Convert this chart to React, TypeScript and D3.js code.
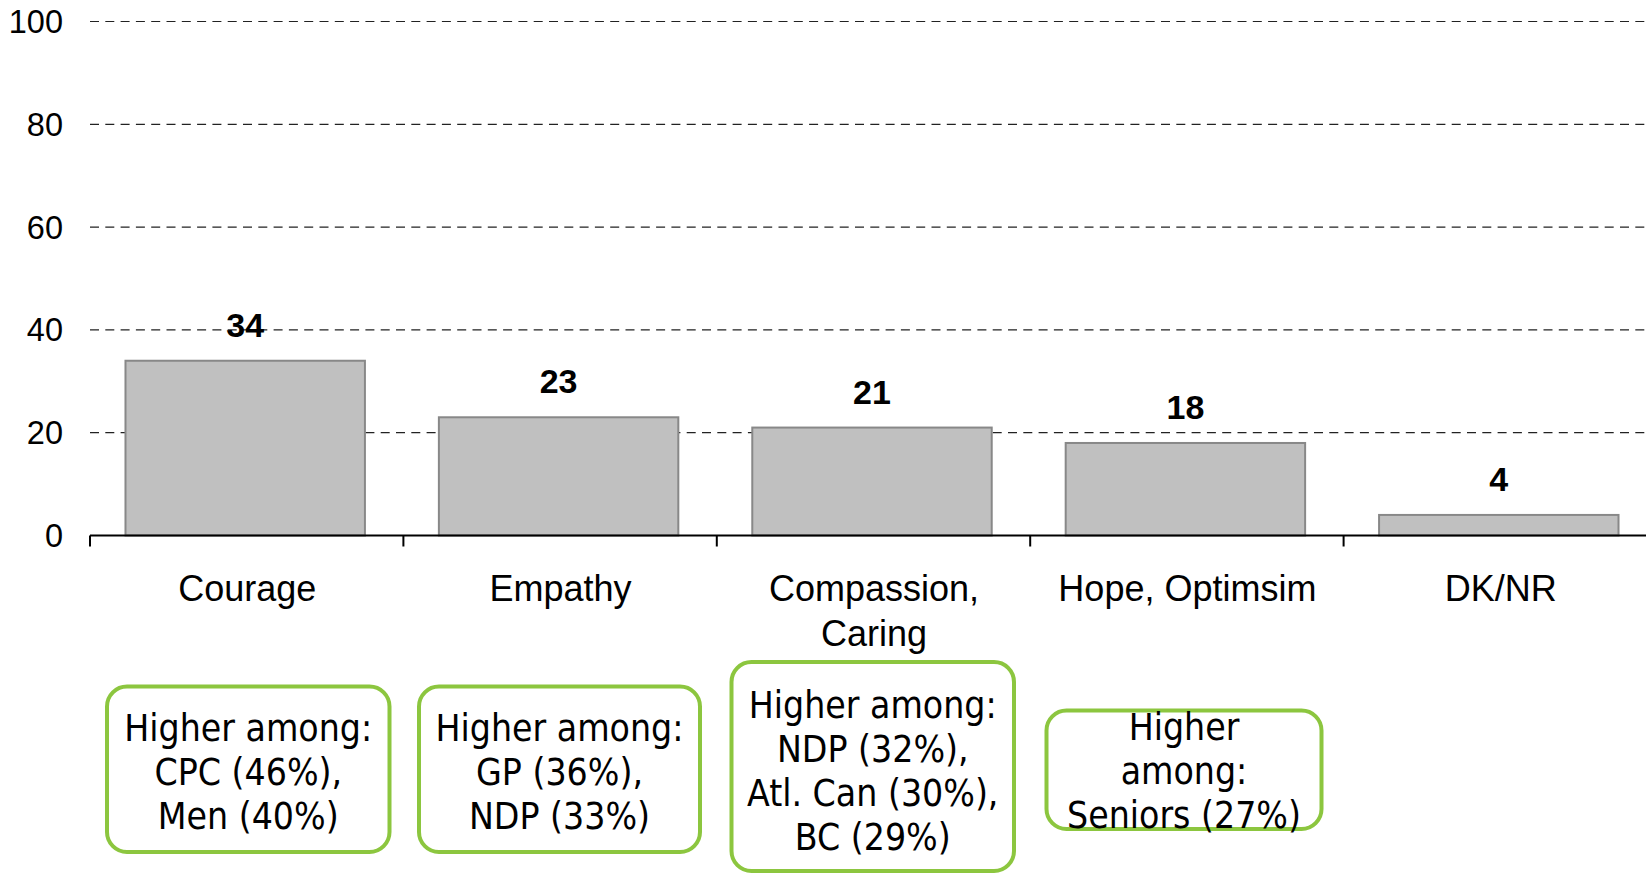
import React from "react";
import * as d3 from "d3";

const categories: string[][] = [["Courage"], ["Empathy"], ["Compassion,", "Caring"], ["Hope, Optimsim"], ["DK/NR"]];
const values: number[] = [34, 23, 21, 18, 4];
const yTicks: number[] = [0, 20, 40, 60, 80, 100];
const boxTexts: string[][] = [
  ["Higher among:", "CPC (46%),", "Men (40%)"],
  ["Higher among:", "GP (36%),", "NDP (33%)"],
  ["Higher among:", "NDP (32%),", "Atl. Can (30%),", "BC (29%)"],
  ["Higher", "among:", "Seniors (27%)"],
];
// box layout: [x0, y0, x1, y1, first baseline]
const boxLayout: number[][] = [
  [107, 686.5, 389.5, 852, 741],
  [419, 686.5, 700, 852, 741],
  [731.5, 662, 1014, 871, 718],
  [1046.5, 710.5, 1321.5, 829, 740],
];

const W = 1646;
const H = 874;
const left = 90;
const step = 313.4;

export default function App() {
  const keys = categories.map((c) => c.join(" "));
  const x = d3.scaleBand<string>().domain(keys).range([left - 1.5, left - 1.5 + step * keys.length]).paddingInner(0.236).paddingOuter(0.118);
  const y = d3.scaleLinear().domain([0, 100]).range([535.5, 21.5]);
  const axisFont = "'Liberation Sans', Arial, sans-serif";
  const boxFont = "'DejaVu Sans Condensed', 'DejaVu Sans', sans-serif";
  return (
    <svg width={W} height={H} style={{ position: "absolute", left: 0, top: 0, background: "#fff" }}>
      {yTicks.filter((t) => t > 0).map((t) => (
        <line key={t} x1={left} x2={W} y1={y(t)} y2={y(t)} stroke="#222" strokeWidth={1.2} strokeDasharray="9,6.3" />
      ))}
      {yTicks.map((t) => (
        <text key={t} x={63} y={y(t) + 11.5} textAnchor="end" fontFamily={axisFont} fontSize={32.5} fill="#000">{t}</text>
      ))}
      {keys.map((k, i) => (
        <rect key={k} x={x(k)} y={y(values[i])} width={x.bandwidth()} height={y(0) - y(values[i])} fill="#c0c0c0" stroke="#888" strokeWidth={2} />
      ))}
      <line x1={left} x2={W} y1={y(0)} y2={y(0)} stroke="#000" strokeWidth={2} />
      {keys.map((k, i) => {
        const bx = left + i * x.step();
        return <line key={k} x1={bx} x2={bx} y1={y(0)} y2={y(0) + 11} stroke="#000" strokeWidth={2} />;
      })}
      {keys.map((k, i) => (
        <text key={k} x={(x(k) as number) + x.bandwidth() / 2} y={y(values[i]) - 24} textAnchor="middle" fontFamily={axisFont} fontWeight="bold" fontSize={34} fill="#000">{values[i]}</text>
      ))}
      {categories.map((lines, i) => (
        <text key={i} textAnchor="middle" fontFamily={axisFont} fontSize={36} fill="#000">
          {lines.map((l, j) => (
            <tspan key={j} x={(x(keys[i]) as number) + x.bandwidth() / 2 + 2} y={601 + j * 45}>{l}</tspan>
          ))}
        </text>
      ))}
      {boxTexts.map((lines, i) => {
        const [x0, y0, x1, y1, b0] = boxLayout[i];
        const cx = (x0 + x1) / 2;
        return (
          <g key={i}>
            <rect x={x0} y={y0} width={x1 - x0} height={y1 - y0} rx={20} ry={20} fill="none" stroke="#8cc63f" strokeWidth={4} />
            <text textAnchor="middle" fontFamily={boxFont} fontSize={37} fill="#000">
              {lines.map((l, j) => (
                <tspan key={j} x={cx} y={b0 + j * 44}>{l}</tspan>
              ))}
            </text>
          </g>
        );
      })}
    </svg>
  );
}
